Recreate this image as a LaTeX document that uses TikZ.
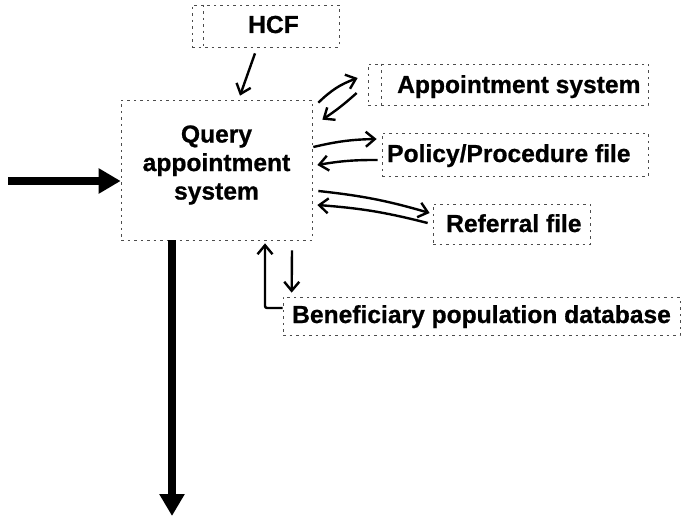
\documentclass[tikz,border=0pt]{standalone}
\usepackage{fontspec}
\setmainfont{Liberation Sans}[BoldFeatures={FakeBold=0.8}]
\usetikzlibrary{arrows.meta}

\begin{document}
\begin{tikzpicture}[x=1pt,y=-1pt,
  box/.style={draw=black!70, line width=0.7pt, dash pattern=on 2.5pt off 4pt,
              inner sep=0pt, rectangle},
  lbl/.style={inner sep=0pt, font=\fontsize{24.6}{28.5}\selectfont\bfseries},
  flow/.style={line width=2.4pt, -{Straight Barb[length=9pt,width=15pt,line width=2.4pt]}},
  bigflow/.style={line width=8pt, -{Triangle[length=22pt,width=24pt]}}]
\useasboundingbox (0,0) rectangle (681,519);

% activity box
\node[box, minimum width=191pt, minimum height=140pt] (q) at (216.5,170) {};
\node[lbl, align=center] (qt) at (216.5,165) {Query\\appointment\\system};

% surrounding resources and files
\node[box, minimum width=147pt, minimum height=42pt] (hcf) at (265.5,26) {};
\draw[box] ([xshift=12pt]hcf.north west) -- ([xshift=12pt]hcf.south west);
\node[lbl, anchor=base west] (hcft) at (248,33) {HCF};

\node[box, minimum width=280pt, minimum height=41pt] (appt) at (508,84.5) {};
\draw[box] ([xshift=14pt]appt.north west) -- ([xshift=14pt]appt.south west);
\node[lbl, anchor=base west] (apptt) at (397,93) {Appointment system};

\node[box, minimum width=266pt, minimum height=43pt] (pol) at (515,154.5) {};
\node[lbl, anchor=base west] (polt) at (387,162) {Policy/Procedure file};

\node[box, minimum width=157pt, minimum height=40pt] (ref) at (511.5,224) {};
\node[lbl, anchor=base west] (reft) at (446,232) {Referral file};

\node[box, minimum width=397pt, minimum height=38pt] (ben) at (481.5,316) {};
\node[lbl, anchor=base west] (bent) at (292,323) {Beneficiary population database};

% free ends of the main flow
\coordinate (in) at (8,181);
\coordinate (out) at (172,516);

% main input and output
\draw[bigflow] (in) -- ([yshift=-11pt]q.west);
\draw[bigflow] ([xshift=-44.5pt]q.south) -- (out);

% control from HCF
\draw[flow] ([xshift=-10.5pt,yshift=-6pt]hcf.south) -- ([xshift=23.5pt,yshift=4pt]q.north);

% exchanges with the appointment system
\draw[flow] ([xshift=6pt,yshift=-3pt]q.north east) to[bend left=12]
            ([xshift=-10pt,yshift=6.5pt]appt.west);
\draw[flow] ([xshift=-11pt,yshift=-8.5pt]appt.west) to[bend left=4]
            ([xshift=10pt,yshift=-20pt]q.north east);

% exchanges with the policy/procedure file
\draw[flow] ([xshift=1pt,yshift=23pt]q.east) to[bend left=6]
            ([xshift=-5pt,yshift=15.5pt]pol.west);
\draw[flow] ([xshift=-4pt,yshift=-5.5pt]pol.west) to[bend right=5]
            ([xshift=5pt,yshift=5pt]q.east);

% exchanges with the referral file
\draw[flow] ([xshift=6pt,yshift=-21pt]q.east) to[bend left=5]
            ([xshift=-3pt,yshift=11pt]ref.west);
\draw[flow] ([xshift=-5pt,yshift=1pt]ref.west) to[bend right=5]
            ([xshift=5pt,yshift=-35pt]q.east);

% exchanges with the beneficiary database
\draw[flow, rounded corners=2pt] ([yshift=8pt]ben.west) -| ([xshift=48.5pt,yshift=-3pt]q.south);
\draw[flow] ([xshift=75.5pt,yshift=-10pt]q.south) -- ([xshift=9pt,yshift=4pt]ben.north west);
\end{tikzpicture}
\end{document}
